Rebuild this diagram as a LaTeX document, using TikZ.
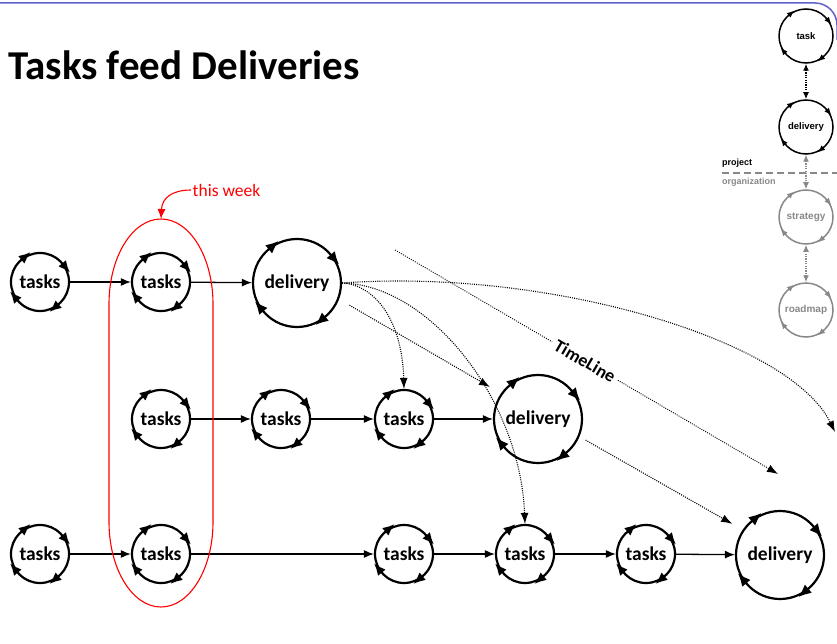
\documentclass[tikz,border=0pt]{standalone}
\usepackage{fontspec}
\setmainfont{Carlito}
\newfontfamily\legendfont{Liberation Sans}
\usetikzlibrary{arrows.meta,decorations.markings}
\definecolor{framebl}{RGB}{96,96,200}
\definecolor{legray}{RGB}{136,136,136}
\definecolor{weekred}{RGB}{255,0,0}

\tikzset{
  % four clockwise arrowheads sitting on a circular node
  ringheads/.style 2 args={postaction={decorate},
    decoration={markings,
      mark=at position 0.111 with {\arrow{Latex[reversed,length=#1,width=#2]}},
      mark=at position 0.361 with {\arrow{Latex[reversed,length=#1,width=#2]}},
      mark=at position 0.611 with {\arrow{Latex[reversed,length=#1,width=#2]}},
      mark=at position 0.861 with {\arrow{Latex[reversed,length=#1,width=#2]}}}},
  tasknode/.style={circle, draw, inner sep=0pt, minimum size=58pt, line width=2.2pt,
    font=\bfseries\fontsize{19.5}{22}\selectfont, ringheads={12pt}{10pt}},
  delnode/.style={circle, draw, inner sep=0pt, minimum size=88pt, line width=2.2pt,
    font=\bfseries\fontsize{19.5}{22}\selectfont, ringheads={13pt}{11pt}},
  legnode/.style={circle, draw, inner sep=0pt, minimum size=54pt, line width=1.5pt,
    font=\legendfont\bfseries\fontsize{9.5}{11}\selectfont, ringheads={7.5pt}{6pt}},
  flow/.style={line width=1.3pt, -{Latex[length=10pt,width=8pt]}},
  feed/.style={line width=1.1pt, dash pattern=on 1pt off 1.2pt, -{Latex[length=11pt,width=8pt]}},
  legdot/.style={line width=1.3pt, dash pattern=on 1.2pt off 1.2pt,
    {Latex[length=7pt,width=6pt]}-{Latex[length=7pt,width=6pt]}},
  legtext/.style={anchor=west, inner sep=0pt, font=\legendfont\bfseries\fontsize{9}{10}\selectfont}
}

\begin{document}
\begin{tikzpicture}[x=1pt,y=-1pt]
\useasboundingbox (0,0) rectangle (837,644);

% slide frame along the top edge
\draw[framebl, line width=1.5pt] (0,3) -- (815,3) arc[start angle=-90, end angle=0, radius=22] -- (837,40);

% heading
\node[anchor=base west, inner sep=0pt, font=\bfseries\fontsize{41}{41}\selectfont] (title) at (8,80) {Tasks feed Deliveries};

% first row
\node[tasknode] (t11) at (40,282) {tasks};
\node[tasknode] (t12) at (161,282) {tasks};
\node[delnode]  (d1)  at (297,283) {delivery};

% second row
\node[tasknode] (t22) at (161,419) {tasks};
\node[tasknode] (t23) at (281,419) {tasks};
\node[tasknode] (t24) at (404,419) {tasks};
\node[delnode]  (d2)  at (538,419) {delivery};

% third row
\node[tasknode] (t31) at (40,554) {tasks};
\node[tasknode] (t32) at (161,554) {tasks};
\node[tasknode] (t34) at (404,554) {tasks};
\node[tasknode] (t35) at (525,554) {tasks};
\node[tasknode] (t36) at (646,554) {tasks};
\node[delnode]  (d3)  at (780,555) {delivery};

% solid flow inside each row
\draw[flow] (t11) -- (t12);
\draw[flow] (t12) -- (d1);
\draw[flow] (t22) -- (t23);
\draw[flow] (t23) -- (t24);
\draw[flow] (t24) -- (d2);
\draw[flow] (t31) -- (t32);
\draw[flow] (t32) -- (t34);
\draw[flow] (t34) -- (t35);
\draw[flow] (t35) -- (t36);
\draw[flow] (t36) -- (d3);

% dotted feeds out of the first delivery
\coordinate (farend) at (835,432);
\coordinate (d2near) at (490,387);
\draw[feed] (d1.east) .. controls (375,285) and (402,320) .. (t24.north);
\draw[feed] (d1.east) .. controls (430,285) and (520,400) .. (t35.north);
\draw[feed] (d1.east) .. controls (550,268) and (790,340) .. (farend);
\draw[feed, shorten <=12pt] (d1.-21) -- (d2near);
\draw[feed, shorten <=7pt, shorten >=12pt] (d2.-23) -- (d3.146);

% time line
\coordinate (tl0) at (395,250);
\coordinate (tl1) at (778,474);
\node[rotate=-30.3, inner sep=4pt, font=\bfseries\fontsize{18}{19}\selectfont] (tlab) at (585,361) {TimeLine};
\draw[line width=0.9pt, dash pattern=on 1pt off 1.3pt] (tl0) -- (tlab);
\draw[feed, line width=0.9pt] (tlab) -- (tl1);

% current week outline
\coordinate (ovaltop) at (161,219);
\draw[weekred, line width=1.1pt] (109,304) arc[start angle=180, end angle=360, x radius=52, y radius=85]
  -- (213,522) arc[start angle=0, end angle=180, x radius=52, y radius=85] -- cycle;
\node[anchor=west, inner sep=1.5pt, text=weekred, font=\fontsize{17.5}{18}\selectfont] (wk) at (191,190) {this week};
\draw[weekred, line width=1.1pt, -{Latex[length=10pt,width=8pt]}] (wk.west) .. controls (172,190) and (162,198) .. (ovaltop);

% legend on the right
\node[legnode] (lt) at (806,36) {task};
\node[legnode] (ld) at (806,127) {delivery};
\node[legnode, legray, font=\legendfont\bfseries\fontsize{10}{11}\selectfont] (ls) at (806,217) {strategy};
\node[legnode, legray, font=\legendfont\bfseries\fontsize{10}{11}\selectfont] (lr) at (806,310) {roadmap};
\draw[legdot] (lt) -- (ld);
\draw[legdot, legray] (ld) -- (ls);
\draw[legdot, legray] (ls) -- (lr);
\node[legtext] (lproj) at (722,163) {project};
\node[legtext, text=legray] (lorg) at (722,182) {organization};
\coordinate (sep0) at (722,173);
\coordinate (sep1) at (837,173);
\draw[legray, line width=1.2pt, dash pattern=on 7pt off 4pt] (sep0) -- (sep1);
\end{tikzpicture}
\end{document}
